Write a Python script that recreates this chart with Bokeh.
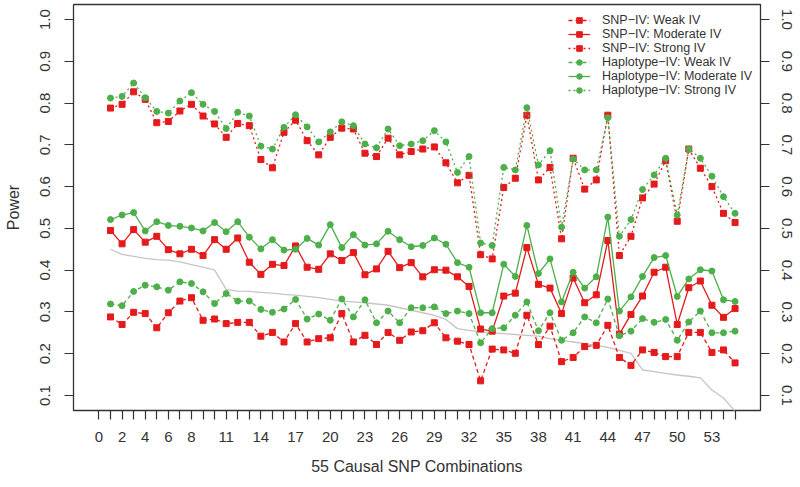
from bokeh.plotting import figure
from bokeh.models import Range1d, FixedTicker, LinearAxis, Legend, LegendItem
from bokeh.embed import file_html
from bokeh.resources import INLINE

# ---------------- data ----------------
combo = list(range(1, 56))

snp_weak = [0.288, 0.270, 0.299, 0.296, 0.262, 0.298, 0.326, 0.334, 0.280, 0.283,
            0.272, 0.275, 0.275, 0.242, 0.251, 0.228, 0.272, 0.228, 0.236, 0.238,
            0.296, 0.228, 0.244, 0.222, 0.251, 0.232, 0.252, 0.255, 0.274, 0.238,
            0.230, 0.222, 0.135, 0.211, 0.209, 0.201, 0.292, 0.222, 0.266, 0.181,
            0.191, 0.217, 0.220, 0.268, 0.191, 0.172, 0.209, 0.203, 0.193, 0.193,
            0.251, 0.251, 0.203, 0.209, 0.178]

snp_moderate = [0.495, 0.463, 0.497, 0.467, 0.481, 0.449, 0.439, 0.450, 0.435, 0.473,
                0.450, 0.477, 0.419, 0.390, 0.414, 0.411, 0.458, 0.407, 0.402, 0.439,
                0.423, 0.442, 0.389, 0.403, 0.445, 0.406, 0.418, 0.384, 0.401, 0.400,
                0.384, 0.361, 0.259, 0.254, 0.338, 0.345, 0.454, 0.366, 0.357, 0.296,
                0.381, 0.322, 0.341, 0.471, 0.247, 0.294, 0.338, 0.395, 0.407, 0.270,
                0.358, 0.374, 0.316, 0.287, 0.308]

snp_strong = [0.788, 0.797, 0.827, 0.809, 0.753, 0.756, 0.781, 0.797, 0.769, 0.750,
              0.718, 0.751, 0.746, 0.665, 0.645, 0.730, 0.759, 0.710, 0.676, 0.718,
              0.740, 0.738, 0.680, 0.672, 0.716, 0.676, 0.684, 0.690, 0.695, 0.657,
              0.609, 0.627, 0.437, 0.427, 0.598, 0.620, 0.771, 0.616, 0.646, 0.475,
              0.668, 0.594, 0.616, 0.771, 0.435, 0.481, 0.573, 0.606, 0.662, 0.517,
              0.690, 0.644, 0.600, 0.536, 0.514]

hap_weak = [0.319, 0.315, 0.349, 0.364, 0.360, 0.352, 0.372, 0.368, 0.348, 0.320,
            0.344, 0.326, 0.326, 0.306, 0.299, 0.307, 0.330, 0.283, 0.295, 0.280,
            0.331, 0.288, 0.329, 0.274, 0.302, 0.274, 0.310, 0.310, 0.312, 0.296,
            0.302, 0.296, 0.226, 0.260, 0.262, 0.292, 0.324, 0.255, 0.298, 0.232,
            0.250, 0.288, 0.274, 0.331, 0.243, 0.254, 0.284, 0.275, 0.282, 0.232,
            0.276, 0.302, 0.250, 0.250, 0.254]

hap_moderate = [0.521, 0.532, 0.538, 0.494, 0.516, 0.507, 0.505, 0.501, 0.494, 0.514,
                0.492, 0.516, 0.479, 0.451, 0.473, 0.448, 0.450, 0.476, 0.460, 0.509,
                0.454, 0.485, 0.460, 0.463, 0.493, 0.473, 0.456, 0.459, 0.477, 0.462,
                0.418, 0.407, 0.298, 0.298, 0.414, 0.385, 0.507, 0.392, 0.427, 0.324,
                0.395, 0.357, 0.384, 0.527, 0.302, 0.336, 0.385, 0.430, 0.435, 0.337,
                0.379, 0.401, 0.398, 0.329, 0.325]

hap_strong = [0.812, 0.816, 0.848, 0.813, 0.780, 0.776, 0.805, 0.825, 0.797, 0.780,
              0.739, 0.778, 0.769, 0.697, 0.690, 0.742, 0.772, 0.743, 0.707, 0.731,
              0.755, 0.746, 0.702, 0.693, 0.738, 0.698, 0.702, 0.710, 0.734, 0.707,
              0.634, 0.672, 0.465, 0.459, 0.646, 0.640, 0.789, 0.652, 0.686, 0.503,
              0.666, 0.640, 0.640, 0.765, 0.481, 0.521, 0.593, 0.628, 0.668, 0.532,
              0.690, 0.668, 0.625, 0.576, 0.536]

reference_curve = [0.450, 0.438, 0.433, 0.428, 0.425, 0.424, 0.420, 0.413, 0.407, 0.400,
                   0.354, 0.350, 0.349, 0.347, 0.345, 0.342, 0.340, 0.337, 0.334, 0.330,
                   0.326, 0.324, 0.322, 0.319, 0.316, 0.310, 0.304, 0.298, 0.292, 0.282,
                   0.260, 0.256, 0.252, 0.250, 0.248, 0.246, 0.244, 0.242, 0.236, 0.232,
                   0.228, 0.224, 0.220, 0.215, 0.208, 0.201, 0.161, 0.157, 0.153, 0.149,
                   0.146, 0.142, 0.113, 0.094, 0.062]

y_ticks = [0.1, 0.2, 0.3, 0.4, 0.5, 0.6, 0.7, 0.8, 0.9, 1.0]
y_tick_labels = ["0.1", "0.2", "0.3", "0.4", "0.5", "0.6", "0.7", "0.8", "0.9", "1.0"]
x_ticks = list(range(0, 56))
x_labelled = [0, 2, 4, 6, 8, 11, 14, 17, 20, 23, 26, 29, 32, 35, 38, 41, 44, 47, 50, 53]

series_names = ["SNP\u2212IV: Weak IV", "SNP\u2212IV: Moderate IV", "SNP\u2212IV: Strong IV",
                "Haplotype\u2212IV: Weak IV", "Haplotype\u2212IV: Moderate IV",
                "Haplotype\u2212IV: Strong IV"]

# ---------------- style ----------------
RED = "#E41A1C"
GREEN = "#4DAF4A"
GRAY = "#C8C4C4"
INK = "#333333"
FONT = "Liberation Sans"

p = figure(width=800, height=487, output_backend="svg", toolbar_location=None,
           x_range=Range1d(-2.2, 57.2), y_range=Range1d(0.064, 1.036),
           min_border_left=73, min_border_right=40, min_border_top=4, min_border_bottom=77)
p.grid.visible = False
p.outline_line_color = INK
p.outline_line_width = 1.3
p.background_fill_color = "white"
p.border_fill_color = "white"


def style_axis(ax, standoff):
    ax.axis_line_color = None
    ax.major_tick_line_color = INK
    ax.major_tick_line_width = 1.2
    ax.major_tick_out = 9
    ax.major_tick_in = 0
    ax.minor_tick_line_color = None
    ax.major_label_text_font = FONT
    ax.major_label_text_font_size = "15px"
    ax.major_label_text_color = INK
    ax.major_label_standoff = standoff
    ax.axis_label_text_font = FONT
    ax.axis_label_text_font_size = "16px"
    ax.axis_label_text_font_style = "normal"
    ax.axis_label_text_color = INK


y_over = {t: s for t, s in zip(y_ticks, y_tick_labels)}

xa = p.xaxis[0]
style_axis(xa, 12)
xa.ticker = FixedTicker(ticks=x_ticks)
xa.major_label_overrides = {t: (str(t) if t in x_labelled else "") for t in x_ticks}
xa.axis_label = "55 Causal SNP Combinations"
xa.axis_label_standoff = 13

ya = p.yaxis[0]
style_axis(ya, 14)
ya.ticker = FixedTicker(ticks=y_ticks)
ya.major_label_overrides = y_over
ya.major_label_orientation = "vertical"
ya.axis_label = "Power"
ya.axis_label_standoff = 16

ra = LinearAxis(ticker=FixedTicker(ticks=y_ticks))
style_axis(ra, 12)
ra.major_label_overrides = y_over
ra.major_label_orientation = "vertical"
p.add_layout(ra, "right")

# reference curve
p.line(combo, reference_curve, line_color=GRAY, line_width=1.3)

series = [snp_weak, snp_moderate, snp_strong, hap_weak, hap_moderate, hap_strong]
colors = [RED, RED, RED, GREEN, GREEN, GREEN]
dashes = ["4 3", "solid", "2 3", "4 3", "solid", "2 3"]
markers = ["square", "square", "square", "circle", "circle", "circle"]
sizes = [6, 6, 6, 6, 6, 6]

items = []
for name, vals, col, dash, mk, sz in zip(series_names, series, colors, dashes, markers, sizes):
    lr = p.line(combo, vals, line_color=col, line_width=1.3, line_dash=dash)
    sr = p.scatter(combo, vals, marker=mk, size=sz, fill_color=col, line_color=col)
    items.append(LegendItem(label=name, renderers=[lr, sr]))

legend = Legend(items=items, location=(495, 313), orientation="vertical",
                border_line_alpha=0, background_fill_alpha=0,
                padding=0, margin=0, spacing=0,
                label_height=14, glyph_height=14, glyph_width=22, label_standoff=12,
                label_text_font=FONT, label_text_font_size="12.5px",
                label_text_color=INK)
p.add_layout(legend)

open("out.html", "w").write(file_html(p, INLINE))
